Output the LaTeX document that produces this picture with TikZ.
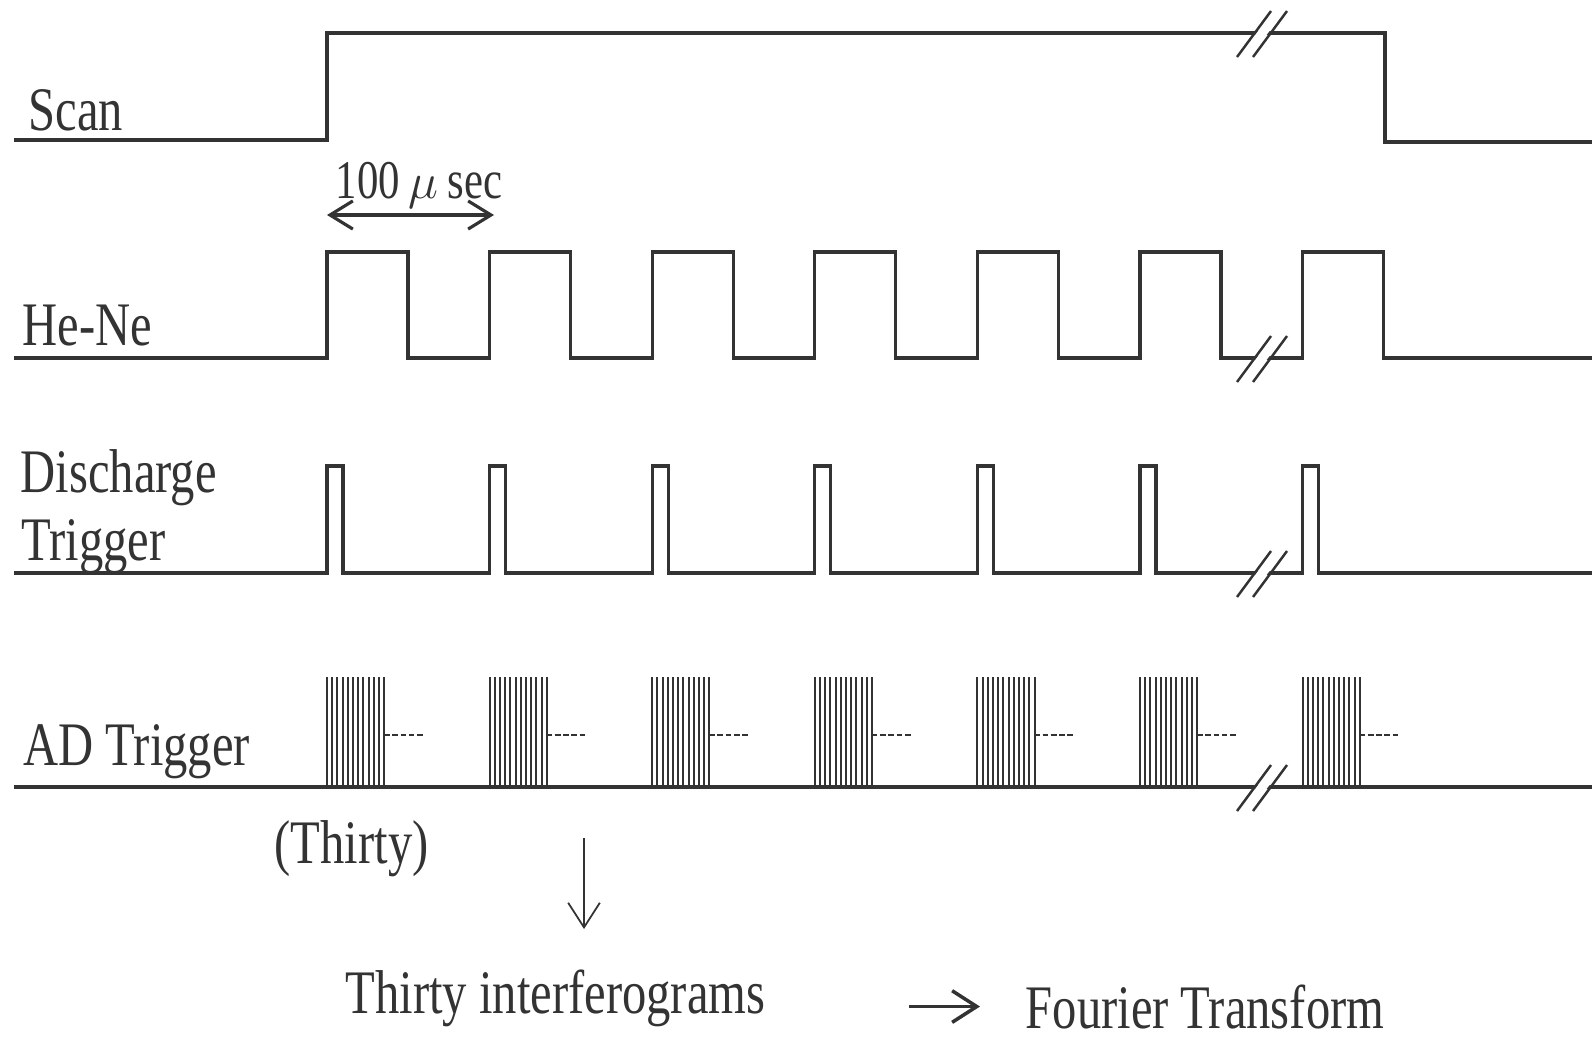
\documentclass[tikz,border=0pt]{standalone}
\usepackage{fontspec}
\setmainfont{Liberation Serif}[FakeStretch=0.785]
\usetikzlibrary{positioning, arrows.meta}
\definecolor{ink}{HTML}{333333}

\begin{document}
\begin{tikzpicture}[
    x=0.01cm, y=-0.01cm,
    sig/.style={draw=ink, line width=0.9pt},
    brst/.style={draw=ink, line width=0.6pt},
    dsh/.style={draw=ink, line width=0.8pt, dash pattern=on 1.6pt off 0.75pt},
    slash/.style={draw=ink, line width=0.7pt},
    lbl/.style={text=ink, inner sep=0pt, anchor=base west, font=\fontsize{17.6}{21}\selectfont},
    tip/.style={draw=ink, line width=0.8pt, -{Straight Barb[length=7pt, width=9pt]}},
    dbl/.style={draw=ink, line width=0.9pt, {Straight Barb[length=6.5pt, width=8pt]}-{Straight Barb[length=6.5pt, width=8pt]}}
]
\useasboundingbox (0,0) rectangle (1592,1036);

% signal names
\node[lbl] (scan) at (28,130) {Scan};
\node[lbl] (hene) at (22,345) {He-Ne};
\node[lbl] (dis) at (20,492) {Discharge};
\node[lbl] (trig) at (21,560) {Trigger};
\node[lbl] (ad) at (23,765) {AD Trigger};
\node[lbl, font=\fontsize{15.5}{18}\selectfont] (usec) at (335,198) {100\,$\mu$\,sec};

% Scan
\draw[sig] (14,140) -- (327,140) -- (327,33) -- (1385,33) -- (1385,142) -- (1592,142);

% He-Ne
\draw[sig] (14,358)
    foreach \k [evaluate=\k as \x using 327+162.6*\k] in {0,...,6} {
        -- (\x,358) -- (\x,252) -- ({\x+81},252) -- ({\x+81},358)
    } -- (1592,358);

% discharge trigger
\draw[sig] (14,573)
    foreach \k [evaluate=\k as \x using 327+162.6*\k] in {0,...,6} {
        -- (\x,573) -- (\x,466) -- ({\x+16},466) -- ({\x+16},573)
    } -- (1592,573);

% AD trigger
\draw[sig] (14,787) -- (1592,787);
\foreach \k in {0,...,6} {
    \foreach \j in {0,...,11}
        \draw[brst] ({327+162.6*\k+5.2*\j},787) -- ++(0,-110);
    \draw[dsh] ({327+162.6*\k+57},735) -- ++(41,0);
}

% breaks
\foreach \y in {33,358,573,787} {
    \fill[white] (1240,{\y+22}) -- (1273,{\y-22}) -- (1285,{\y-22}) -- (1251,{\y+22}) -- cycle;
    \draw[slash] (1237,{\y+24}) -- (1271,{\y-22});
    \draw[slash] (1253,{\y+24}) -- (1287,{\y-22});
}

% 100 usec period
\coordinate (t0) at (327,215);
\coordinate (t1) at (494,215);
\draw[dbl] (t0) -- (t1);

% result
\node[lbl] (thirty) at (274,863) {(Thirty)};
\node[lbl] (interf) at (345,1013) {Thirty interferograms};
\node[lbl] (fourier) at (1025,1028) {Fourier Transform};
\coordinate (dn0) at (584,838);
\coordinate (dn1) at (584,929);
\draw[tip, line width=0.5pt] (dn0) -- (dn1);
\draw[tip, line width=1pt] ([xshift=-1.16cm]fourier.west) -- ([xshift=-0.45cm]fourier.west);
\end{tikzpicture}
\end{document}
